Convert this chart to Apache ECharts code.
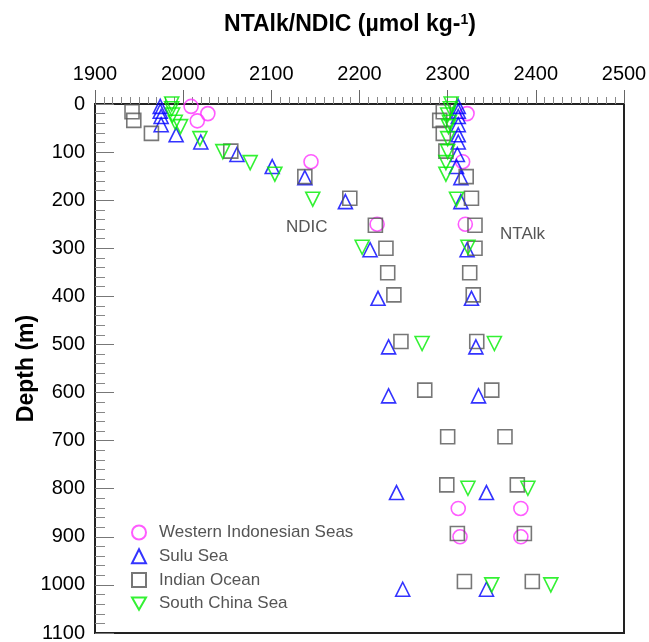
<!DOCTYPE html>
<html>
<head>
<meta charset="utf-8">
<script src="https://cdn.jsdelivr.net/npm/echarts@6/dist/echarts.min.js"></script>
<style>
html,body{margin:0;padding:0;background:#fff;}
#chart{width:649px;height:642px;}
</style>
</head>
<body>
<div id="chart"></div>
<script>
// Axis ticks
const xTicks = [1900, 2000, 2100, 2200, 2300, 2400, 2500];
const yTicks = [0, 100, 200, 300, 400, 500, 600, 700, 800, 900, 1000, 1100];

// Western Indonesian Seas (circle)
const wisDepth = [5, 20, 35, 120, 250, 841, 900];
const wisNDIC  = [2009, 2028, 2016, 2145, 2220, 2312, 2314];
const wisNTAlk = [null, 2322, null, 2317, 2320, 2383, 2383];

// Sulu Sea (triangle)
const suluDepth = [5, 15, 26, 43, 64, 79, 105, 130, 153, 203, 303, 404, 505, 607, 808, 1009];
const suluNDIC  = [1974, 1974, 1975, 1975, 1992, 2020, 2061, 2101, 2138, 2184, 2212, 2221, 2233, 2233, 2242, 2249];
const suluNTAlk = [2312, 2312, 2312, 2312, 2312, 2312, 2311, 2310, 2315, 2315, 2322, 2327, 2332, 2335, 2344, 2344];

// Indian Ocean (square)
const ioDepth = [16, 34, 61, 98, 151, 196, 252, 300, 351, 397, 494, 595, 692, 792, 893, 993];
const ioNDIC  = [1942, 1944, 1964, 2054, 2138, 2189, 2218, 2230, 2232, 2239, 2247, 2274, 2300, 2299, 2311, 2319];
const ioNTAlk = [2295, 2291, 2295, 2298, 2321, 2327, 2331, 2331, 2325, 2329, 2333, 2350, 2365, 2379, 2387, 2396];

// South China Sea (inverted triangle)
const scsDepth = [0, 10, 23, 38, 47, 72, 99, 122, 146, 198, 298, 498, 799, 1000];
const scsNDIC  = [1987, 1987, 1988, 1991, 1997, 2019, 2045, 2076, 2104, 2147, 2203, 2271, 2323, 2350];
const scsNTAlk = [2304, 2303, 2300, 2302, 2301, 2300, 2300, 2298, 2298, 2310, 2323, 2353, 2391, 2417];

const seriesNames = ['Western Indonesian Seas', 'Sulu Sea', 'Indian Ocean', 'South China Sea'];

function pts(depth, ndic, ntalk) {
  const out = [];
  depth.forEach((d, i) => {
    if (ndic[i] != null) out.push([ndic[i], d]);
    if (ntalk[i] != null) out.push([ntalk[i], d]);
  });
  return out;
}

const FONT = '"Liberation Sans", Arial, sans-serif';

function mk(name, symbol, color, data) {
  return {
    name: name,
    type: 'scatter',
    symbol: symbol,
    symbolSize: 14,
    data: data,
    itemStyle: { color: 'rgba(0,0,0,0)', borderColor: color, borderWidth: 1.6 },
    emphasis: { disabled: true }
  };
}

const downTri = 'path://M0,0 L20,0 L10,17.3 Z';

const chart = echarts.init(document.getElementById('chart'), null, { renderer: 'canvas' });
chart.setOption({
  animation: false,
  backgroundColor: '#fff',
  title: {
    text: '{a|NTAlk/NDIC (µmol kg-}{s|1}{a|)}',
    left: 345, top: 8, textAlign: 'center',
    textStyle: {
      rich: {
        a: { fontFamily: FONT, fontWeight: 'bold', fontSize: 23, color: '#000' },
        s: { fontFamily: FONT, fontWeight: 'bold', fontSize: 14, color: '#000', verticalAlign: 'top', padding: [0, 0, 10, 0] }
      }
    }
  },
  grid: { left: 95, top: 104, right: 25, bottom: 9, outerBoundsMode: 'none', containLabel: false, show: true, borderColor: '#222', borderWidth: 2, backgroundColor: 'rgba(0,0,0,0)' },
  legend: {
    orient: 'vertical', left: 126, top: 519,
    itemWidth: 14, itemHeight: 14, itemGap: 6.7,
    textStyle: { fontFamily: FONT, fontSize: 17, color: '#555', padding: [0, 0, 0, 8] },
    data: seriesNames
  },
  xAxis: {
    type: 'value', position: 'top', min: xTicks[0], max: xTicks[xTicks.length - 1], interval: 100,
    axisLine: { show: true, lineStyle: { color: '#222', width: 2 } },
    axisTick: { show: true, inside: false, length: 14, lineStyle: { color: '#666' } },
    minorTick: { show: true, splitNumber: 10, length: 7, lineStyle: { color: '#888' } },
    axisLabel: { fontFamily: FONT, fontSize: 20, color: '#000', margin: 20, formatter: v => String(v) },
    splitLine: { show: false }
  },
  yAxis: {
    type: 'value', inverse: true, min: yTicks[0], max: yTicks[yTicks.length - 1], interval: 100,
    name: 'Depth (m)', nameLocation: 'middle', nameGap: 57, nameMoveOverlap: false,
    nameTextStyle: { fontFamily: FONT, fontWeight: 'bold', fontSize: 23, color: '#000' },
    axisLine: { show: true, lineStyle: { color: '#222', width: 2 } },
    axisTick: { show: true, inside: true, length: 19, lineStyle: { color: '#777' } },
    minorTick: { show: true, splitNumber: 5, length: 10, lineStyle: { color: '#888' } },
    axisLabel: { fontFamily: FONT, fontSize: 20, color: '#000', margin: 10, formatter: v => String(v) },
    splitLine: { show: false }
  },
  graphic: [
    { type: 'text', left: 286, top: 219, style: { text: 'NDIC', font: '17px ' + FONT, fill: '#555' } },
    { type: 'text', left: 500, top: 226, style: { text: 'NTAlk', font: '17px ' + FONT, fill: '#555' } }
  ],
  series: [
    mk(seriesNames[0], 'circle', '#ff33ff', pts(wisDepth, wisNDIC, wisNTAlk)),
    mk(seriesNames[1], 'triangle', '#0000ff', pts(suluDepth, suluNDIC, suluNTAlk)),
    mk(seriesNames[2], 'rect', '#555555', pts(ioDepth, ioNDIC, ioNTAlk)),
    mk(seriesNames[3], downTri, '#00ee00', pts(scsDepth, scsNDIC, scsNTAlk))
  ]
});
</script>
</body>
</html>
